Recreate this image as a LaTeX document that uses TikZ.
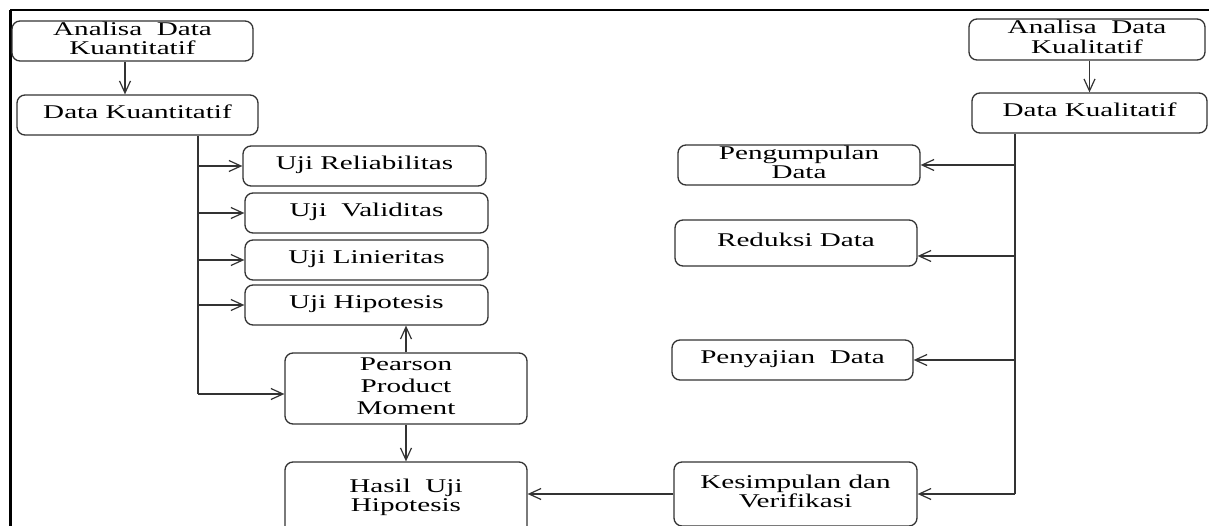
\documentclass[tikz,border=0pt]{standalone}
\usepackage{fontspec}
\setmainfont{Liberation Serif}
\usetikzlibrary{arrows.meta}
\definecolor{ln}{HTML}{333333}
\newcommand{\tx}[1]{\raisebox{-2.5bp}{\scalebox{1.5}[1]{\begin{tabular}{@{}c@{}}#1\end{tabular}}}}
\begin{document}
\begin{tikzpicture}[x=1bp,y=-1bp,
  box/.style={draw=ln, line width=1.3bp, rounded corners=8bp, inner sep=0pt,
    font=\fontsize{19.5}{20}\selectfont, text=black},
  conn/.style={draw=ln, line width=1.3bp},
  arr/.style={conn, -{Straight Barb[length=12bp,width=11bp,line width=1.2bp]}}]
\useasboundingbox (0,0) rectangle (1209,526);
\draw[line width=2bp] (10,10) -- (1209,10);
\draw[line width=3bp] (10,10) -- (10,526);

% left column
\node[box, minimum width=241bp, minimum height=40bp] (aqt) at (132.5,41) {\tx{Analisa\ \ Data\\Kuantitatif}};
\node[box, minimum width=241bp, minimum height=40bp] (dqt) at (137.5,115) {\tx{Data Kuantitatif}};
\node[box, minimum width=243bp, minimum height=40bp] (ur) at (364.5,166) {\tx{Uji Reliabilitas}};
\node[box, minimum width=243bp, minimum height=40bp] (uv) at (366.5,213) {\tx{Uji\ \ Validitas}};
\node[box, minimum width=243bp, minimum height=40bp] (ul) at (366.5,260) {\tx{Uji Linieritas}};
\node[box, minimum width=243bp, minimum height=40bp] (uh) at (366.5,305) {\tx{Uji Hipotesis}};
\node[box, minimum width=242bp, minimum height=71bp, font=\fontsize{19.5}{22}\selectfont] (ppm) at (406,388.5) {\tx{Pearson\\Product\\Moment}};
\node[box, minimum width=242bp, minimum height=72bp] (huh) at (406,498) {\tx{Hasil\ \ Uji\\Hipotesis}};

% right column
\node[box, minimum width=236bp, minimum height=41bp] (aql) at (1087,39.5) {\tx{Analisa\ \ Data\\Kualitatif}};
\node[box, minimum width=235bp, minimum height=40bp] (dql) at (1089.5,113) {\tx{Data Kualitatif}};
\node[box, minimum width=242bp, minimum height=40bp] (pd) at (799,165) {\tx{Pengumpulan\\Data}};
\node[box, minimum width=242bp, minimum height=46bp] (rd) at (796,243) {\tx{Reduksi Data}};
\node[box, minimum width=241bp, minimum height=40bp] (psd) at (792.5,360) {\tx{Penyajian\ \ Data}};
\node[box, minimum width=243bp, minimum height=64bp] (kv) at (795.5,494) {\tx{Kesimpulan dan\\Verifikasi}};

% left connectors
\coordinate (tl) at (198,394);
\draw[arr] ([xshift=-7.5bp]aqt.south) -- ([xshift=-7.5bp]aqt.south |- dqt.north);
\draw[conn] (tl |- dqt.south) -- (tl);
\draw[arr] (tl) -- (tl -| ppm.west);
\draw[arr] (tl |- ur.west) -- (ur.west);
\draw[arr] (tl |- uv.west) -- (uv.west);
\draw[arr] (tl |- ul.west) -- (ul.west);
\draw[arr] (tl |- uh.west) -- (uh.west);
\draw[arr] (ppm.north) -- (ppm.north |- uh.south);
\draw[arr] (ppm.south) -- (ppm.south |- huh.north);
\draw[arr] (kv.west) -- (kv.west -| huh.east);

% right connectors
\coordinate (tr) at (1015,494);
\coordinate (rdin) at ([yshift=-13bp]rd.east);
\draw[arr] (aql.south -| dql.north) -- (dql.north);
\draw[conn] (tr |- dql.south) -- (tr);
\draw[arr] (tr |- pd.east) -- (pd.east);
\draw[arr] (tr |- rdin) -- (rdin);
\draw[arr] (tr |- psd.east) -- (psd.east);
\draw[arr] (tr) -- (kv.east);
\end{tikzpicture}
\end{document}
